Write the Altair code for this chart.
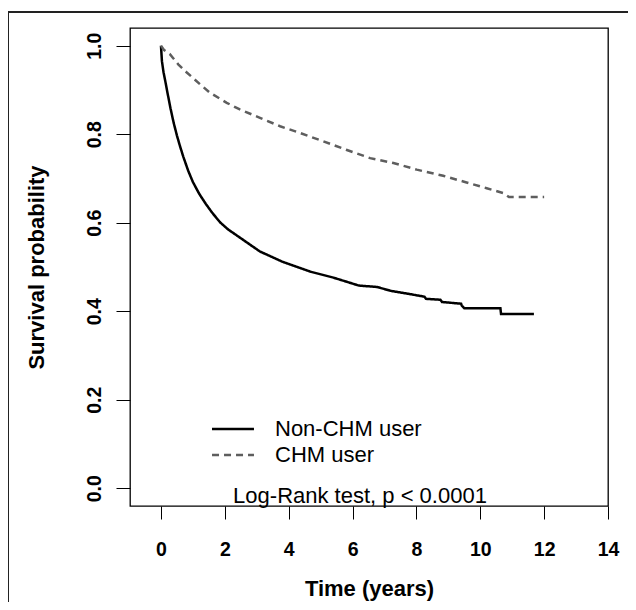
import altair as alt
import pandas as pd

groups = ["Non-CHM user", "CHM user"]

non_time = [0.0, 0.03, 0.08, 0.13, 0.2, 0.3, 0.4, 0.5, 0.6, 0.7, 0.85, 1.0, 1.2, 1.4,
            1.6, 1.85, 2.1, 2.5, 3.1, 3.8, 4.7, 5.4, 6.2, 6.75, 6.86, 7.2, 7.7, 8.25,
            8.3, 8.75, 8.8, 9.4, 9.42, 9.5, 10.63, 10.65, 11.68]
non_surv = [1.0, 0.965, 0.94, 0.922, 0.895, 0.858, 0.825, 0.797, 0.772, 0.749, 0.718,
            0.692, 0.665, 0.643, 0.623, 0.601, 0.585, 0.565, 0.535, 0.512, 0.489, 0.476,
            0.458, 0.455, 0.453, 0.446, 0.440, 0.433, 0.428, 0.426, 0.421, 0.417, 0.413,
            0.407, 0.407, 0.394, 0.394]

chm_time = [0.0, 0.1, 0.28, 0.54, 0.8, 1.22, 1.53, 2.06, 2.47, 3.1, 3.73, 4.35, 5.08,
            5.8, 6.55, 7.28, 8.01, 8.84, 9.57, 10.2, 10.72, 10.9, 12.0]
chm_surv = [1.0, 0.99, 0.981, 0.958, 0.940, 0.913, 0.894, 0.871, 0.856, 0.837, 0.818,
            0.803, 0.784, 0.765, 0.746, 0.735, 0.720, 0.706, 0.691, 0.678, 0.667, 0.658,
            0.658]

x_ticks = [0, 2, 4, 6, 8, 10, 12, 14]
y_ticks = [0.0, 0.2, 0.4, 0.6, 0.8, 1.0]

df = pd.concat([
    pd.DataFrame({"time": non_time, "surv": non_surv, "group": groups[0],
                  "ord": list(range(len(non_time)))}),
    pd.DataFrame({"time": chm_time, "surv": chm_surv, "group": groups[1],
                  "ord": list(range(len(chm_time)))}),
])

FONT = "Liberation Sans"

leg = alt.Legend(title=None, orient="none", legendX=92, legendY=390, padding=0,
                 symbolType="M-4,0H4", symbolSize=110, symbolStrokeWidth=2.5,
                 labelFont=FONT, labelFontSize=22, labelColor="#000000",
                 labelOffset=31, rowPadding=4, labelLimit=300)

lines = alt.Chart(df).mark_line(strokeWidth=2.5).encode(
    x=alt.X("time:Q",
            scale=alt.Scale(domain=[-0.97, 14], nice=False, zero=False),
            axis=alt.Axis(values=x_ticks, title="Time (years)", grid=False,
                          domain=False, tickSize=13, tickColor="#000000",
                          labelFont=FONT, labelFontSize=19.5, labelFontWeight="bold",
                          labelColor="#000000", labelBaseline="alphabetic",
                          labelPadding=36, labelFlush=False, labelOverlap=False,
                          titleFont=FONT, titleFontSize=22, titleFontWeight="bold",
                          titleColor="#000000", titleX=239, titleY=89,
                          titleAlign="center", titleBaseline="alphabetic")),
    y=alt.Y("surv:Q",
            scale=alt.Scale(domain=[-0.04, 1.04], nice=False, zero=False),
            axis=alt.Axis(values=y_ticks, format=".1f", title="Survival probability",
                          grid=False, domain=False, tickSize=14, tickColor="#000000",
                          labelFont=FONT, labelFontSize=19.5, labelFontWeight="bold",
                          labelColor="#000000", labelAngle=270, labelAlign="center",
                          labelBaseline="alphabetic", labelPadding=16,
                          labelFlush=False, labelOverlap=False,
                          titleFont=FONT, titleFontSize=22, titleFontWeight="bold",
                          titleColor="#000000", titleAngle=270, titleX=-87, titleY=239,
                          titleAlign="center", titleBaseline="alphabetic")),
    color=alt.Color("group:N", scale=alt.Scale(domain=groups, range=["#000000", "#5e5e5e"]),
                    legend=leg),
    strokeDash=alt.StrokeDash("group:N", scale=alt.Scale(domain=groups, range=[[1, 0], [7, 5]]),
                              legend=leg),
    order=alt.Order("ord:Q"),
)

note = alt.Chart(pd.DataFrame({"t": ["Log-Rank test, p < 0.0001"]})).mark_text(
    font=FONT, fontSize=22, color="#000000", align="center", baseline="alphabetic"
).encode(text="t:N", x=alt.value(230), y=alt.value(475))

frame_src = pd.DataFrame({"k": [0]})
frame_top = alt.Chart(frame_src).mark_rule(color="#222222", strokeWidth=2).encode(
    x=alt.value(-122), x2=alt.value(520), y=alt.value(-16))
frame_left = alt.Chart(frame_src).mark_rule(color="#222222", strokeWidth=2).encode(
    x=alt.value(-122), y=alt.value(-16), y2=alt.value(600))

chart = alt.layer(frame_top, frame_left, lines, note).properties(
    width=478, height=478,
    padding={"left": 122, "top": 20, "right": 20, "bottom": 96},
    autosize=alt.AutoSizeParams(type="none"),
    background="#ffffff",
).configure_view(stroke="#000000", strokeWidth=1.3)

chart.save("out.html", embed_options={"renderer": "svg", "actions": False})
